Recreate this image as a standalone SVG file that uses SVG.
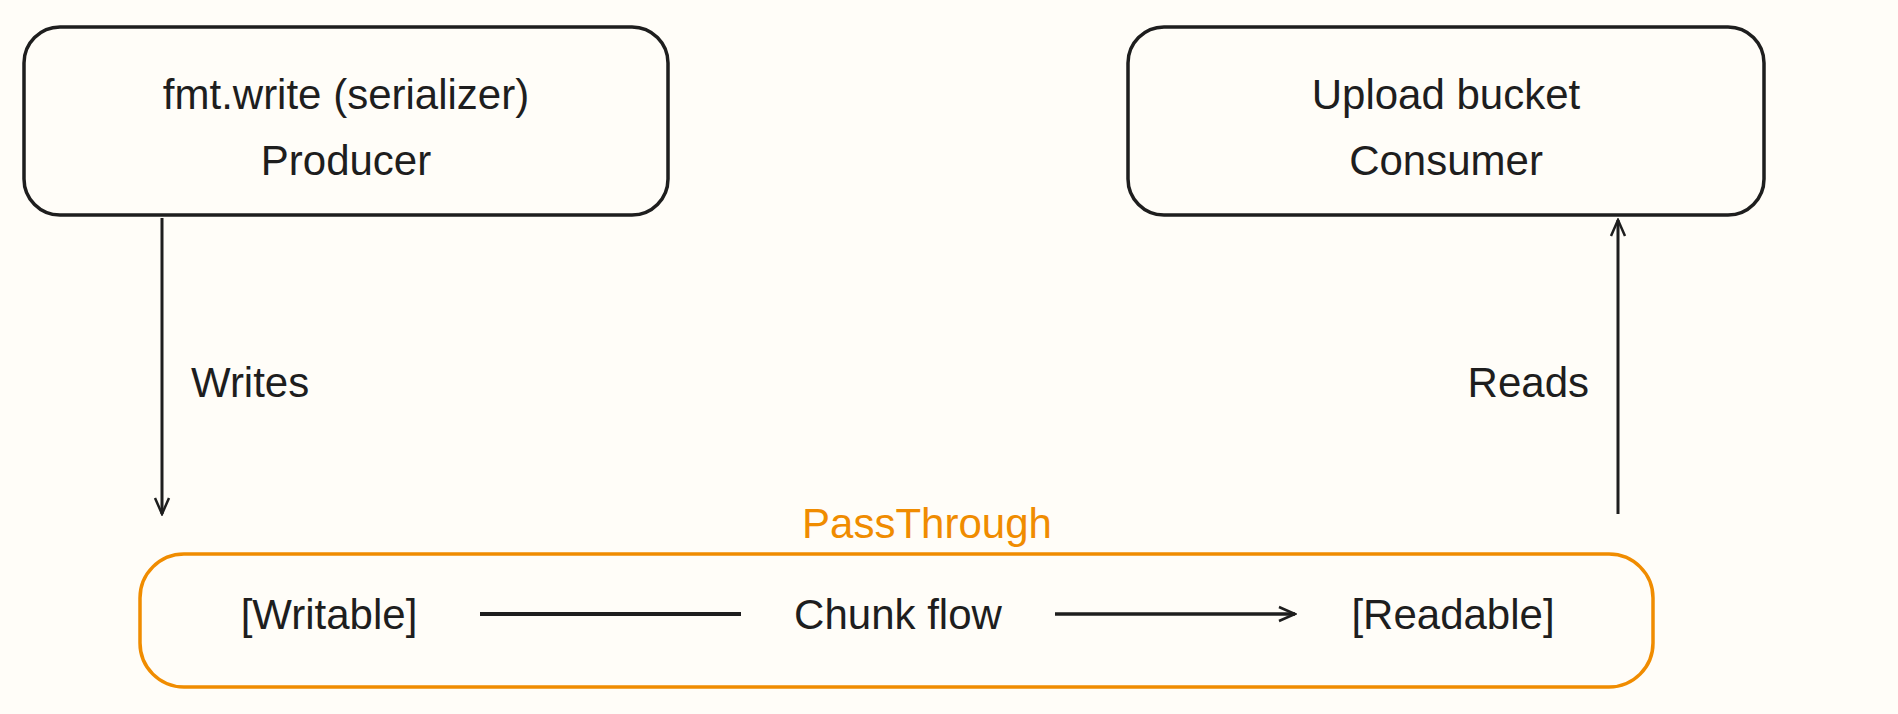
<svg xmlns="http://www.w3.org/2000/svg" width="1898" height="714" viewBox="0 0 1898 714">
<defs>
<style>
text{font-family:"Liberation Sans",Arial,sans-serif;font-size:42px;fill:#1e1e1e;text-anchor:middle;dominant-baseline:central}
.box{fill:none;stroke:#1e1e1e;stroke-width:3.5}
.line{stroke:#1e1e1e;stroke-width:3;fill:none}
</style>
<marker id="ah" viewBox="0 0 20 20" refX="18" refY="10" markerWidth="20" markerHeight="20" markerUnits="userSpaceOnUse" orient="auto"><path d="M2 3 L18 10 L2 17" fill="none" stroke="#1e1e1e" stroke-width="2.5"/></marker>
</defs>
<rect width="1898" height="714" fill="#fffdf8"/>
<g id="producer"><rect class="box" x="24" y="27" width="644" height="188" rx="36"/><text x="346" y="94">fmt.write (serializer)</text><text x="346" y="160">Producer</text></g>
<g id="consumer"><rect class="box" x="1128" y="27" width="636" height="188" rx="36"/><text x="1446" y="94">Upload bucket</text><text x="1446" y="160">Consumer</text></g>
<g id="passthrough"><rect x="140" y="554" width="1513" height="133" rx="44" fill="none" stroke="#f08c00" stroke-width="3.5"/><text x="927" y="523" style="fill:#f08c00">PassThrough</text><text x="329" y="614">[Writable]</text><text x="898" y="614">Chunk flow</text><text x="1453" y="614">[Readable]</text></g>
<g id="connectors">
<path class="line" d="M162 218 L162 514" marker-end="url(#ah)"/>
<text x="191" y="382" style="text-anchor:start">Writes</text>
<path class="line" d="M1618 514 L1618 220" marker-end="url(#ah)"/>
<text x="1589" y="382" style="text-anchor:end">Reads</text>
<path class="line" d="M480 614 L741 614" style="stroke-width:4"/>
<path class="line" d="M1055 614 L1295 614" style="stroke-width:3.5" marker-end="url(#ah)"/>
</g>
</svg>
